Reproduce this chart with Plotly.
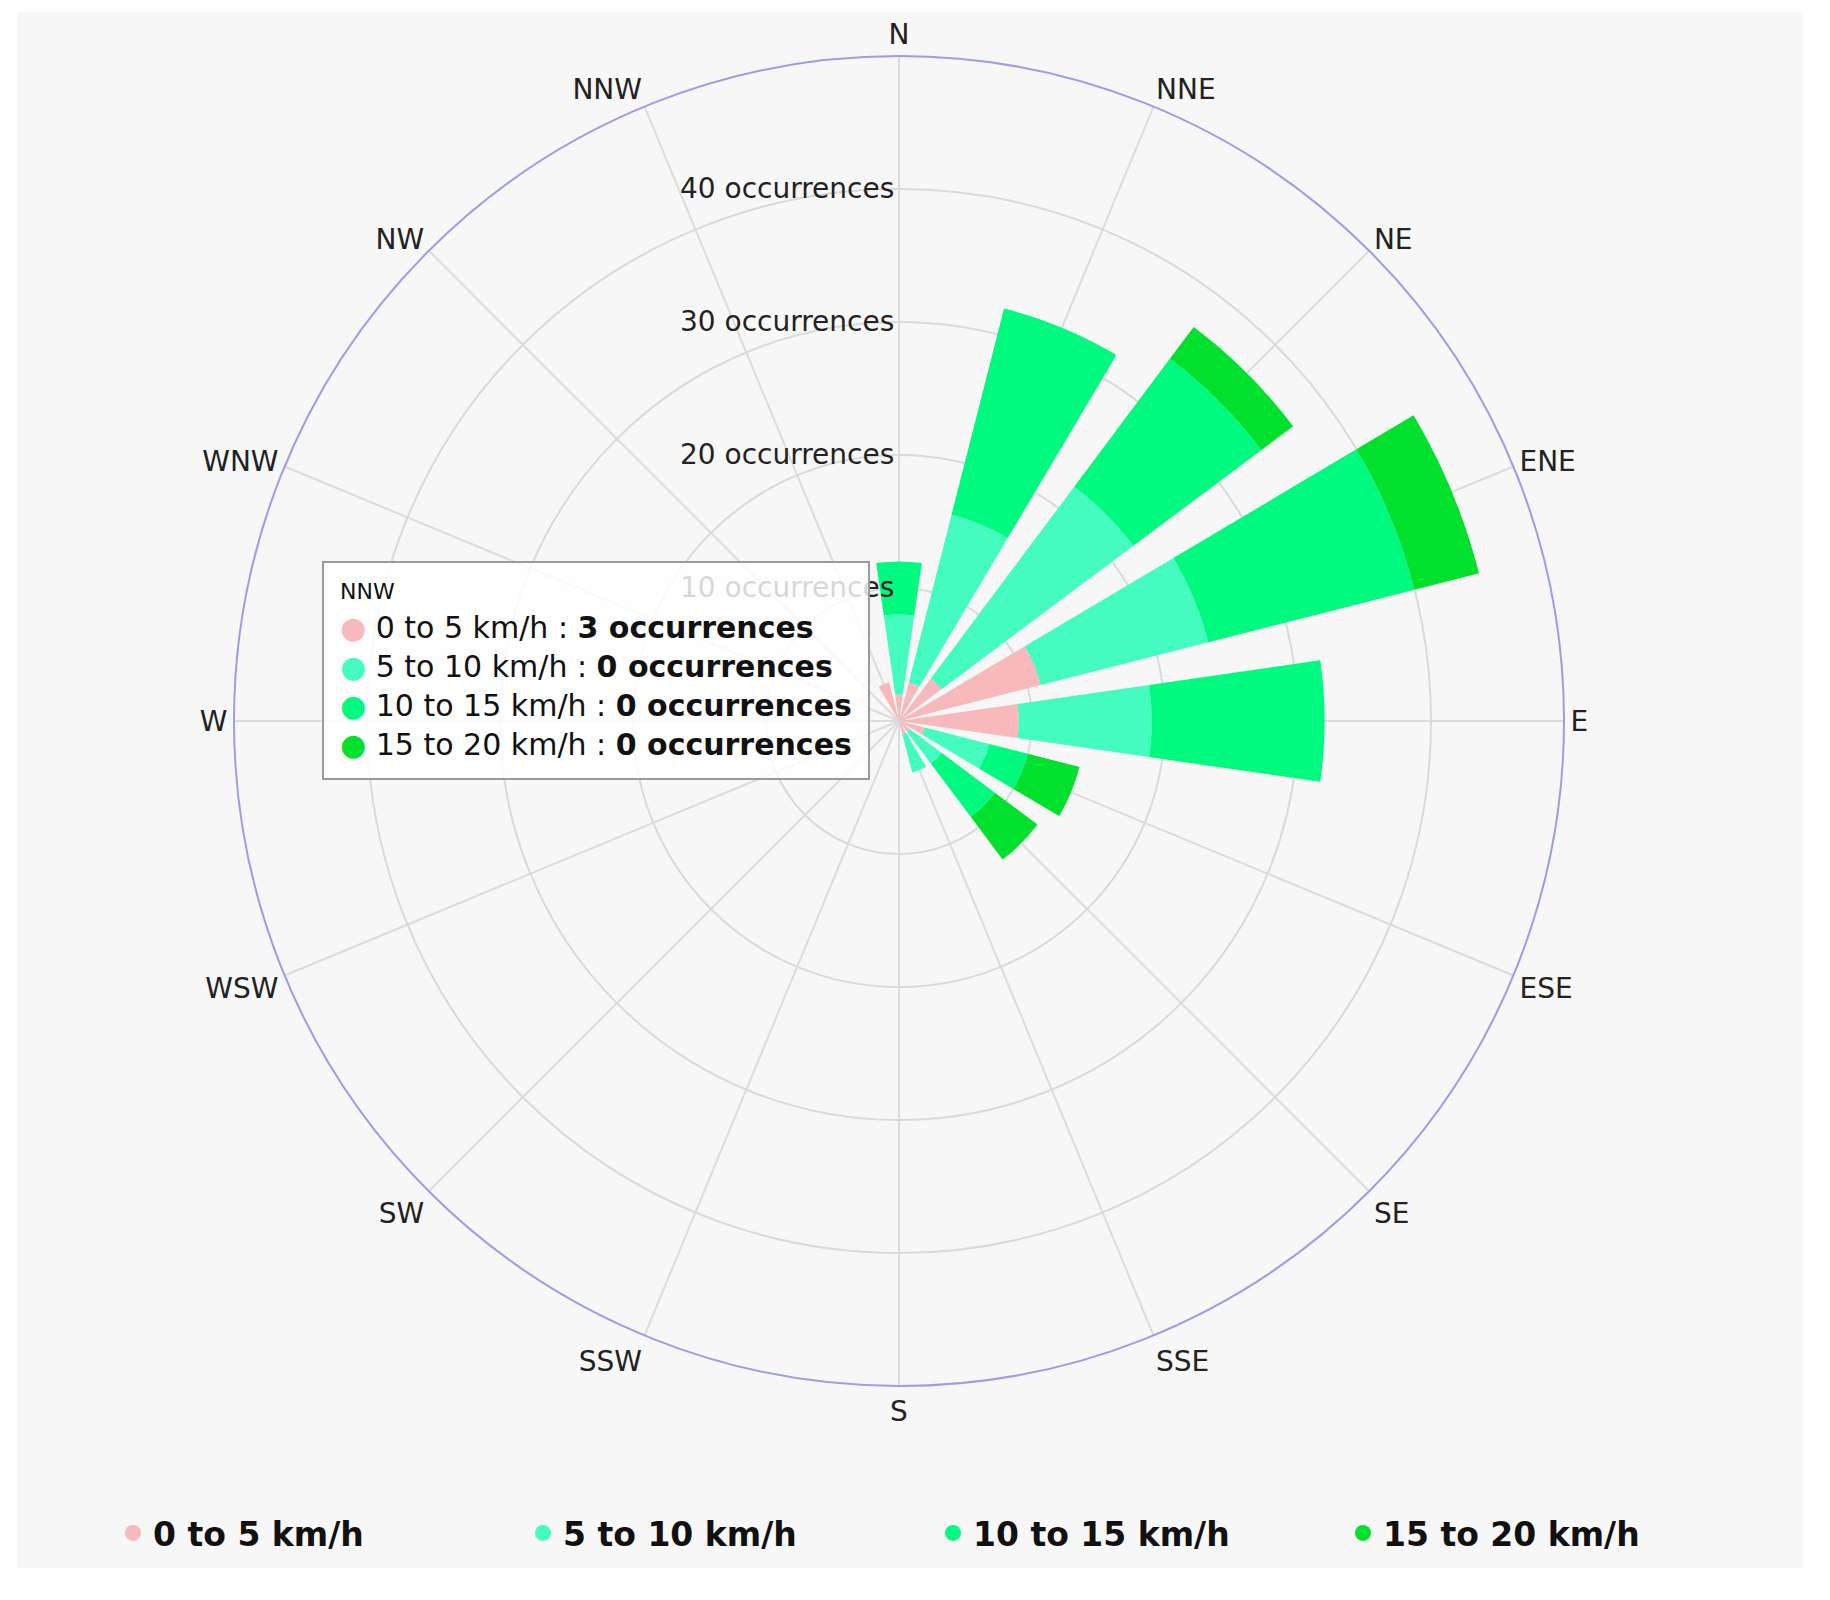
import plotly.graph_objects as go

# --- datos ---
direcciones = ['N', 'NNE', 'NE', 'ENE', 'E', 'ESE', 'SE', 'SSE',
               'S', 'SSW', 'SW', 'WSW', 'W', 'WNW', 'NW', 'NNW']
v_0_5 = [2, 3, 4, 11, 9, 2, 1, 1, 0, 0, 0, 0, 0, 0, 0, 3]
v_5_10 = [6, 13, 18, 13, 10, 5, 3, 3, 0, 0, 0, 0, 0, 0, 0, 0]
v_10_15 = [4, 16, 12, 16, 13, 3, 5, 0, 0, 0, 0, 0, 0, 0, 0, 0]
v_15_20 = [0, 0, 3, 5, 0, 4, 4, 0, 0, 0, 0, 0, 0, 0, 0, 0]

series = ['0 to 5 km/h', '5 to 10 km/h', '10 to 15 km/h', '15 to 20 km/h']
valores = [v_0_5, v_5_10, v_10_15, v_15_20]
colores = ['#f7b9bb', '#44fcc0', '#00fa80', '#00e02c']

radial_ticks = [10, 20, 30, 40]
radial_text = [f'{t} occurrences' for t in radial_ticks]

FONT = 'DejaVu Sans'
W, H = 1814, 1584

fig = go.Figure()

for nombre, vals, col in zip(series, valores, colores):
    # ancho en unidades de categoría (1 = 22.5 grados)
    fig.add_trace(go.Barpolar(
        r=vals, theta=direcciones, name=nombre,
        marker_color=col, marker_line_width=0,
        width=0.73, showlegend=False, hoverinfo='skip'
    ))
    # entrada de leyenda con marcador circular
    fig.add_trace(go.Scatterpolar(
        r=[None], theta=[None], mode='markers', name=nombre,
        marker=dict(symbol='circle', size=16, color=col)
    ))

# tooltip (NNW)
tip = ('<span style="font-size:22px">NNW</span><br>'
       + '<br>'.join(
           f'<span style="color:{c}">\u25CF</span> {n} : <b>{v[-1]} occurrences</b>'
           for n, v, c in zip(series, valores, colores)))

fig.add_annotation(
    xref='paper', yref='paper', x=862 / W, y=1 - 553 / H,
    xanchor='right', yanchor='top', showarrow=False, align='left',
    text=tip, font=dict(family=FONT, size=30, color='#111'),
    bgcolor='rgba(255,255,255,0.82)', bordercolor='#9a9a9a', borderwidth=2, borderpad=16
)

fig.update_layout(
    width=W, height=H,
    paper_bgcolor='white',
    margin=dict(l=0, r=0, t=0, b=0),
    font=dict(family=FONT, size=28, color='#222'),
    shapes=[dict(type='rect', xref='paper', yref='paper', layer='below',
                 x0=9 / W, x1=1795 / W, y0=1 - 1560 / H, y1=1 - 4 / H,
                 fillcolor='#f7f7f7', line_width=0)],
    polar=dict(
        domain=dict(x=[226 / W, 1556 / W], y=[1 - 1378 / H, 1 - 48 / H]),
        bgcolor='#f7f7f7',
        barmode='stack',
        angularaxis=dict(
            rotation=90, direction='clockwise',
            categoryarray=direcciones, categoryorder='array',
            showline=True, linecolor='#9c9ce8', linewidth=2,
            gridcolor='#dcdcdc', gridwidth=1.5,
            ticks='', tickfont=dict(size=28, color='#222')
        ),
        radialaxis=dict(
            range=[0, 50], angle=90, side='counterclockwise', tickangle=90,
            tickvals=radial_ticks, ticktext=radial_text,
            showline=False, ticks='', gridcolor='#dadada', gridwidth=1.5,
            tickfont=dict(size=28, color='#222')
        )
    ),
    legend=dict(
        orientation='h', x=925 / W, xanchor='center', y=1 - 1525 / H, yanchor='middle',
        font=dict(family=FONT, size=33, color='#111', weight='bold'),
        bgcolor='rgba(0,0,0,0)', itemsizing='trace',
        entrywidth=365, entrywidthmode='pixels'
    ),
    hovermode=False
)

fig.write_html('out.html')
